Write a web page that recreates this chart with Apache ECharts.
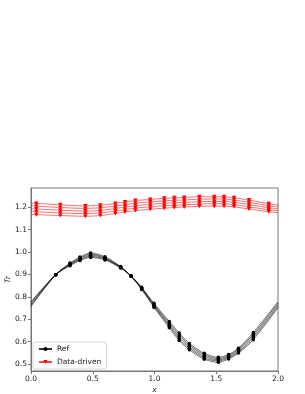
<!DOCTYPE html>
<html>
<head>
<meta charset="utf-8">
<script src="https://cdn.jsdelivr.net/npm/echarts@6/dist/echarts.min.js"></script>
<style>html,body{margin:0;padding:0;background:#fff}#c{width:305px;height:394px}</style>
</head>
<body>
<div id="c"></div>
<script>
// Ref (black) x positions; first and last points carry no marker
var refX = [0, 0.2, 0.316, 0.397, 0.483, 0.599, 0.726, 0.81, 0.896, 0.996, 1.12, 1.2, 1.282, 1.403, 1.517, 1.6, 1.68, 1.8, 2.0];
var ref0 = [0.757, 0.899, 0.951, 0.978, 0.996, 0.979, 0.935, 0.892, 0.833, 0.753, 0.662, 0.605, 0.564, 0.522, 0.508, 0.523, 0.549, 0.609, 0.752];
var ref1 = [0.762, 0.899, 0.948, 0.974, 0.991, 0.975, 0.933, 0.892, 0.835, 0.758, 0.669, 0.613, 0.571, 0.528, 0.514, 0.528, 0.554, 0.617, 0.758];
var ref2 = [0.768, 0.899, 0.945, 0.970, 0.986, 0.972, 0.932, 0.893, 0.838, 0.762, 0.676, 0.622, 0.578, 0.535, 0.519, 0.533, 0.560, 0.625, 0.765];
var ref3 = [0.774, 0.899, 0.942, 0.966, 0.981, 0.968, 0.930, 0.893, 0.840, 0.766, 0.683, 0.631, 0.585, 0.542, 0.524, 0.538, 0.566, 0.633, 0.772];
var ref4 = [0.779, 0.899, 0.939, 0.962, 0.976, 0.965, 0.929, 0.894, 0.843, 0.771, 0.690, 0.639, 0.592, 0.548, 0.530, 0.543, 0.571, 0.641, 0.778];

// Data-driven (red) x positions; first and last points carry no marker
var ddX = [0, 0.043, 0.237, 0.44, 0.561, 0.683, 0.761, 0.845, 0.966, 1.079, 1.16, 1.241, 1.363, 1.484, 1.563, 1.644, 1.765, 1.925, 2.0];
var dd0 = [1.218, 1.217, 1.211, 1.206, 1.209, 1.217, 1.224, 1.230, 1.235, 1.240, 1.242, 1.244, 1.247, 1.247, 1.247, 1.243, 1.232, 1.216, 1.210];
var dd1 = [1.206, 1.205, 1.199, 1.195, 1.198, 1.205, 1.212, 1.218, 1.224, 1.229, 1.231, 1.233, 1.236, 1.237, 1.237, 1.232, 1.222, 1.207, 1.202];
var dd2 = [1.193, 1.192, 1.187, 1.183, 1.186, 1.194, 1.201, 1.207, 1.213, 1.218, 1.220, 1.222, 1.225, 1.226, 1.226, 1.222, 1.212, 1.198, 1.193];
var dd3 = [1.181, 1.180, 1.175, 1.172, 1.175, 1.183, 1.190, 1.196, 1.202, 1.207, 1.209, 1.211, 1.214, 1.216, 1.216, 1.212, 1.202, 1.189, 1.185];
var dd4 = [1.168, 1.167, 1.163, 1.160, 1.163, 1.172, 1.179, 1.185, 1.191, 1.196, 1.199, 1.201, 1.204, 1.205, 1.205, 1.202, 1.192, 1.180, 1.176];

var xTicks = [0, 0.5, 1.0, 1.5, 2.0];
var yTicks = [0.5, 0.6, 0.7, 0.8, 0.9, 1.0, 1.1, 1.2];

function pts(xs, ys) {
  return xs.map(function (x, i) {
    var item = { value: [x, ys[i]] };
    if (i === 0 || i === xs.length - 1) item.symbol = 'none';
    return item;
  });
}

var FONT = 'DejaVu Sans';
var series = [];
[ref0, ref1, ref2, ref3, ref4].forEach(function (ys) {
  series.push({
    name: 'Ref', type: 'line', data: pts(refX, ys),
    smooth: 0.3, symbol: 'circle', symbolSize: 3.5,
    itemStyle: { color: '#000' },
    lineStyle: { color: '#000', width: 0.7, opacity: 0.8 },
    emphasis: { disabled: true }, animation: false, z: 2
  });
});
[dd0, dd1, dd2, dd3, dd4].forEach(function (ys) {
  series.push({
    name: 'Data-driven', type: 'line', data: pts(ddX, ys),
    smooth: 0.3, symbol: 'triangle', symbolRotate: 180, symbolSize: [4.5, 4],
    itemStyle: { color: '#ff0000' },
    lineStyle: { color: '#ff0000', width: 0.75, opacity: 0.75 },
    emphasis: { disabled: true }, animation: false, z: 3
  });
});

var chart = echarts.init(document.getElementById('c'), null, { renderer: 'canvas' });
chart.setOption({
  animation: false,
  backgroundColor: '#fff',
  grid: { left: 31, right: 27, top: 188, bottom: 23, containLabel: false, outerBoundsMode: 'none',
          show: true, borderColor: '#777', borderWidth: 1, backgroundColor: 'transparent' },
  xAxis: {
    type: 'value', min: 0, max: 2, interval: 0.5,
    name: 'x', nameLocation: 'middle', nameGap: 15, nameMoveOverlap: false,
    nameTextStyle: { fontFamily: FONT, fontSize: 7.5, fontStyle: 'italic', color: '#222' },
    axisLine: { show: true, lineStyle: { color: '#777', width: 1 } },
    axisTick: { show: true, length: 3, lineStyle: { color: '#777' } },
    axisLabel: { fontFamily: FONT, fontSize: 7.5, color: '#222', margin: 4, formatter: function (v) { return v.toFixed(1); } },
    splitLine: { show: false }
  },
  yAxis: {
    type: 'value', min: 0.469, max: 1.286,
    name: 'Tr', nameLocation: 'middle', nameGap: 19, nameMoveOverlap: false,
    nameTextStyle: { fontFamily: FONT, fontSize: 7.5, fontStyle: 'italic', color: '#222' },
    axisLine: { show: true, lineStyle: { color: '#777', width: 1 } },
    axisTick: { show: true, length: 3, customValues: yTicks, lineStyle: { color: '#777' } },
    axisLabel: { fontFamily: FONT, fontSize: 7.5, color: '#222', margin: 4, customValues: yTicks, formatter: function (v) { return v.toFixed(1); } },
    splitLine: { show: false }
  },
  legend: {
    orient: 'vertical', left: 33, top: 342,
    data: ['Ref', 'Data-driven'],
    itemWidth: 13, itemHeight: 5, itemGap: 5,
    padding: [3, 5, 3, 5],
    borderColor: '#ccc', borderWidth: 0.8, borderRadius: 2,
    backgroundColor: 'rgba(255,255,255,0.8)',
    textStyle: { fontFamily: FONT, fontSize: 7.5, color: '#222' }
  },
  series: series
});
</script>
</body>
</html>
